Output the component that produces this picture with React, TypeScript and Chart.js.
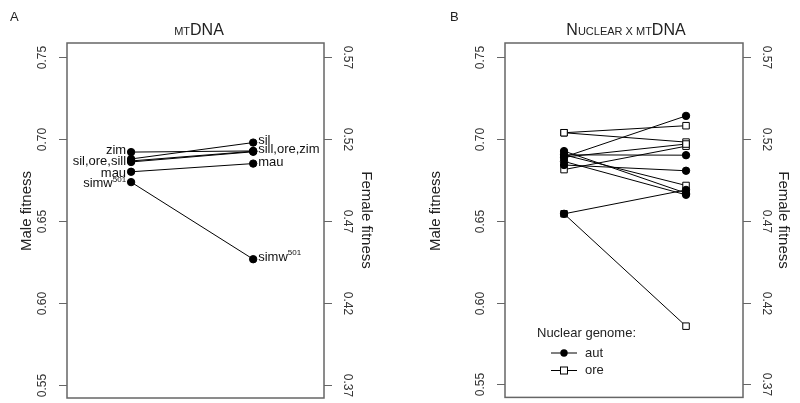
import React, { useEffect, useRef } from "react";
import { Chart, registerables } from "chart.js";
Chart.register(...registerables);

// ---------- data ----------
const maleTicks = [0.55, 0.6, 0.65, 0.7, 0.75];
const femaleTicks = [0.37, 0.42, 0.47, 0.52, 0.57];
const maleMin = 0.5421;
const maleMax = 0.7585;
const femaleShift = 0.18; // female axis = male axis - 0.18

// Panel A (mtDNA)
const mtGenotypes = ["zim", "sil", "ore", "sill", "mau", "simw501"];
const mtMale = [0.692, 0.6878, 0.6866, 0.686, 0.68, 0.6737];
const mtFemale = [0.5127, 0.5178, 0.5125, 0.5122, 0.505, 0.4467];
const mtLeftLabels = ["zim", "sil,ore,sill", "mau", "simw"];
const mtLeftLabelValues = [0.6925, 0.6855, 0.6786, 0.6722];
const mtRightLabels = ["sil", "sill,ore,zim", "mau", "simw"];
const mtRightLabelValues = [0.5178, 0.5127, 0.5042, 0.4467];
const superscript = "501";

// Panel B (Nuclear x mtDNA)
const autMale = [0.6925, 0.6902, 0.6888, 0.6862, 0.684, 0.6542];
const autFemale = [0.4868, 0.51, 0.534, 0.4858, 0.5005, 0.4888];
const oreMale = [0.7037, 0.7037, 0.6812, 0.6888, 0.6902, 0.6542];
const oreFemale = [0.528, 0.518, 0.5155, 0.5168, 0.4915, 0.4056];
const legendTitle = "Nuclear genome:";
const legendLabels = ["aut", "ore"];

const FONT = "'Liberation Sans', Arial, Helvetica, sans-serif";
const AXIS_COLOR = "#666";

function makeFramePlugin(opts: any) {
  return {
    id: "frame" + opts.tag,
    beforeDatasetsDraw(chart: any) {
      const ctx = chart.ctx;
      const ca = chart.chartArea;
      const y = chart.scales.y;
      const y2 = chart.scales.y2;
      const x = chart.scales.x;
      ctx.save();
      // box
      ctx.strokeStyle = AXIS_COLOR;
      ctx.lineWidth = 1.5;
      ctx.strokeRect(ca.left, ca.top, ca.right - ca.left, ca.bottom - ca.top);
      // ticks
      ctx.lineWidth = 1;
      ctx.fillStyle = "#333";
      ctx.font = "12px " + FONT;
      ctx.textAlign = "center";
      ctx.textBaseline = "middle";
      maleTicks.forEach((t) => {
        const py = Math.round(y.getPixelForValue(t)) + 0.5;
        ctx.beginPath();
        ctx.moveTo(ca.left - 8, py);
        ctx.lineTo(ca.left, py);
        ctx.stroke();
        ctx.save();
        ctx.translate(ca.left - 24, py);
        ctx.rotate(-Math.PI / 2);
        ctx.fillText(t.toFixed(2), 0, 0);
        ctx.restore();
      });
      femaleTicks.forEach((t) => {
        const py = Math.round(y2.getPixelForValue(t)) + 0.5;
        ctx.beginPath();
        ctx.moveTo(ca.right, py);
        ctx.lineTo(ca.right + 8, py);
        ctx.stroke();
        ctx.save();
        ctx.translate(ca.right + 23, py);
        ctx.rotate(Math.PI / 2);
        ctx.fillText(t.toFixed(2), 0, 0);
        ctx.restore();
      });
      // axis titles
      ctx.fillStyle = "#222";
      ctx.font = "15px " + FONT;
      ctx.save();
      ctx.translate(opts.maleTitleX, 211);
      ctx.rotate(-Math.PI / 2);
      ctx.fillText("Male fitness", 0, 0);
      ctx.restore();
      ctx.save();
      ctx.translate(opts.femaleTitleX, 220);
      ctx.rotate(Math.PI / 2);
      ctx.fillText("Female fitness", 0, 0);
      ctx.restore();

      // panel letter
      ctx.font = "13px " + FONT;
      ctx.textAlign = "left";
      ctx.fillText(opts.letter, opts.letterX, 17);

      // title with small caps
      const parts: [string, number][] = opts.titleParts;
      let total = 0;
      parts.forEach(([s, sz]) => {
        ctx.font = sz + "px " + FONT;
        total += ctx.measureText(s).width;
      });
      let cx = opts.titleCenter - total / 2;
      ctx.textBaseline = "alphabetic";
      parts.forEach(([s, sz]) => {
        ctx.font = sz + "px " + FONT;
        ctx.fillText(s, cx, 35);
        cx += ctx.measureText(s).width;
      });

      // connecting lines
      ctx.strokeStyle = "#000";
      ctx.lineWidth = 1;
      opts.pairs.forEach((p: any) => {
        p.male.forEach((m: number, i: number) => {
          ctx.beginPath();
          ctx.moveTo(x.getPixelForValue(1), y.getPixelForValue(m));
          ctx.lineTo(x.getPixelForValue(2), y2.getPixelForValue(p.female[i]));
          ctx.stroke();
        });
      });
      ctx.restore();
    },
    afterDatasetsDraw(chart: any) {
      if (opts.afterDraw) opts.afterDraw(chart);
    },
  };
}

function drawMtLabels(chart: any) {
  const ctx = chart.ctx;
  const x = chart.scales.x;
  const y = chart.scales.y;
  const y2 = chart.scales.y2;
  ctx.save();
  ctx.fillStyle = "#111";
  ctx.textBaseline = "middle";
  const lx = x.getPixelForValue(1) - 5;
  mtLeftLabels.forEach((s, i) => {
    const py = y.getPixelForValue(mtLeftLabelValues[i]) - 1;
    ctx.textAlign = "right";
    if (s === "simw") {
      ctx.font = "8px " + FONT;
      const w = ctx.measureText(superscript).width;
      ctx.fillText(superscript, lx, py - 4);
      ctx.font = "13px " + FONT;
      ctx.fillText(s, lx - w, py);
    } else {
      ctx.font = "13px " + FONT;
      ctx.fillText(s, lx, py);
    }
  });
  const rx = x.getPixelForValue(2) + 5;
  mtRightLabels.forEach((s, i) => {
    const py = y2.getPixelForValue(mtRightLabelValues[i]) - 2;
    ctx.textAlign = "left";
    ctx.font = "13px " + FONT;
    ctx.fillText(s, rx, py);
    if (s === "simw") {
      const w = ctx.measureText(s).width;
      ctx.font = "8px " + FONT;
      ctx.fillText(superscript, rx + w, py - 4);
    }
  });
  ctx.restore();
}

function drawLegend(chart: any) {
  const ctx = chart.ctx;
  ctx.save();
  ctx.fillStyle = "#222";
  ctx.font = "13px " + FONT;
  ctx.textBaseline = "middle";
  ctx.textAlign = "left";
  ctx.fillText(legendTitle, 137, 333);
  legendLabels.forEach((lab, i) => {
    const ly = 353 + i * 17.5;
    ctx.strokeStyle = "#000";
    ctx.lineWidth = 1;
    ctx.beginPath();
    ctx.moveTo(151, ly);
    ctx.lineTo(177, ly);
    ctx.stroke();
    if (i === 0) {
      ctx.fillStyle = "#000";
      ctx.beginPath();
      ctx.arc(164, ly, 3.7, 0, Math.PI * 2);
      ctx.fill();
    } else {
      ctx.fillStyle = "#fff";
      ctx.fillRect(160.5, ly - 3.5, 7, 7);
      ctx.strokeRect(160.5, ly - 3.5, 7, 7);
    }
    ctx.fillStyle = "#222";
    ctx.fillText(lab, 185, ly);
  });
  ctx.restore();
}

function baseScales(xmin: number, xmax: number) {
  return {
    x: { type: "linear", min: xmin, max: xmax, display: false },
    y: { type: "linear", min: maleMin, max: maleMax, display: false },
    y2: {
      type: "linear",
      min: maleMin - femaleShift,
      max: maleMax - femaleShift,
      display: false,
    },
  };
}

const circleStyle = {
  pointStyle: "circle",
  pointRadius: 3.7,
  pointBackgroundColor: "#000",
  pointBorderColor: "#000",
  pointBorderWidth: 1,
};
const squareStyle = {
  pointStyle: "rect",
  pointRadius: 4.6,
  pointBackgroundColor: "#fff",
  pointBorderColor: "#000",
  pointBorderWidth: 1,
};

export default function App() {
  const refA = useRef<HTMLCanvasElement>(null);
  const refB = useRef<HTMLCanvasElement>(null);

  useEffect(() => {
    const chartA = new Chart(refA.current as HTMLCanvasElement, {
      type: "scatter",
      data: {
        datasets: [
          {
            data: mtGenotypes.map((_, i) => ({ x: 1, y: mtMale[i] })),
            yAxisID: "y",
            ...circleStyle,
          } as any,
          {
            data: mtGenotypes.map((_, i) => ({ x: 2, y: mtFemale[i] })),
            yAxisID: "y2",
            ...circleStyle,
          } as any,
        ],
      },
      options: {
        responsive: false,
        animation: false,
        devicePixelRatio: 1,
        layout: { padding: { left: 67, right: 76, top: 43, bottom: 5 } },
        plugins: { legend: { display: false }, tooltip: { enabled: false } },
        events: [],
        scales: baseScales(0.475, 2.58) as any,
      },
      plugins: [
        makeFramePlugin({
          tag: "A",
          letter: "A",
          letterX: 10,
          titleParts: [
            ["MT", 11],
            ["DNA", 16],
          ],
          titleCenter: 199,
          maleTitleX: 27,
          femaleTitleX: 366,
          pairs: [{ male: mtMale, female: mtFemale }],
          afterDraw: drawMtLabels,
        }),
      ],
    });

    const chartB = new Chart(refB.current as HTMLCanvasElement, {
      type: "scatter",
      data: {
        datasets: [
          {
            data: autMale.map((v) => ({ x: 1, y: v })),
            yAxisID: "y",
            order: 0,
            ...circleStyle,
          } as any,
          {
            data: autFemale.map((v) => ({ x: 2, y: v })),
            yAxisID: "y2",
            order: 0,
            ...circleStyle,
          } as any,
          {
            data: oreMale.map((v) => ({ x: 1, y: v })),
            yAxisID: "y",
            order: 1,
            ...squareStyle,
          } as any,
          {
            data: oreFemale.map((v) => ({ x: 2, y: v })),
            yAxisID: "y2",
            order: 1,
            ...squareStyle,
          } as any,
        ],
      },
      options: {
        responsive: false,
        animation: false,
        devicePixelRatio: 1,
        layout: { padding: { left: 105, right: 57, top: 43, bottom: 5 } },
        plugins: { legend: { display: false }, tooltip: { enabled: false } },
        events: [],
        scales: baseScales(0.516, 2.467) as any,
      },
      plugins: [
        makeFramePlugin({
          tag: "B",
          letter: "B",
          letterX: 50,
          titleParts: [
            ["N", 16],
            ["UCLEAR X MT", 11],
            ["DNA", 16],
          ],
          titleCenter: 226,
          maleTitleX: 36,
          femaleTitleX: 383,
          pairs: [
            { male: autMale, female: autFemale },
            { male: oreMale, female: oreFemale },
          ],
          afterDraw: drawLegend,
        }),
      ],
    });

    return () => {
      chartA.destroy();
      chartB.destroy();
    };
  }, []);

  return (
    <div
      style={{
        position: "fixed",
        left: 0,
        top: 0,
        width: 800,
        height: 403,
        display: "flex",
        background: "#fff",
      }}
    >
      <canvas ref={refA} width={400} height={403} style={{ display: "block", width: 400, height: 403 }} />
      <canvas ref={refB} width={400} height={403} style={{ display: "block", width: 400, height: 403 }} />
    </div>
  );
}
